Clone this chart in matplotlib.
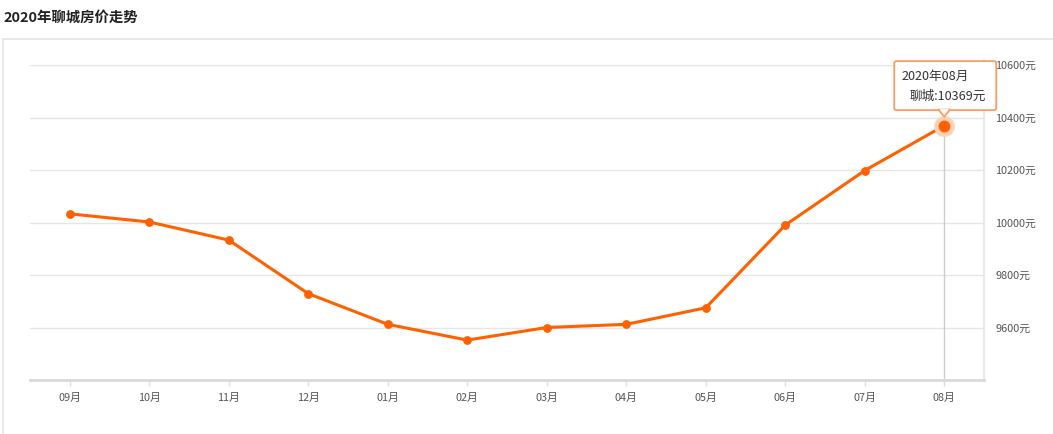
import matplotlib
matplotlib.use("Agg")
import matplotlib.pyplot as plt
from matplotlib.patches import Rectangle, Polygon, FancyBboxPatch
from matplotlib.transforms import IdentityTransform

plt.rcParams['font.family'] = ['Noto Sans CJK SC', 'DejaVu Sans']

title = "2020年聊城房价走势"
months = ["09月", "10月", "11月", "12月", "01月", "02月", "03月", "04月", "05月", "06月", "07月", "08月"]
prices = [10033, 10002, 9933, 9729, 9612, 9552, 9600, 9612, 9675, 9990, 10198, 10369]
yticks = [9600, 9800, 10000, 10200, 10400, 10600]
series_name = "聊城"
tooltip_date = "2020年08月"

LINE = "#ff6000"

fig = plt.figure(figsize=(10.53, 4.34), dpi=100)
W, H = 1053, 434

# outer panel border
fig.add_artist(Rectangle((3 / W, -0.1), 1.2, 1 - 38.5 / H + 0.1, transform=fig.transFigure,
                         facecolor="white", edgecolor="#e4e4e4", lw=1.2, zorder=0))
fig.text(3 / W, 1 - 18 / H, title, fontsize=10.4, fontweight="bold", color="#222222",
         ha="left", va="center")

ax = fig.add_axes([30 / W, 1 - 380 / H, (984 - 30) / W, (380 - 65) / H])
ax.set_facecolor("none")
x = list(range(len(months)))
ax.set_xlim(-0.5, len(months) - 0.5)
ax.set_ylim(9400, 10600)

for v in yticks:
    ax.axhline(v, color="#e6e6e6", lw=1, zorder=1)

ax.plot(x, prices, color=LINE, lw=2.2, marker="o", markersize=5.3, zorder=3,
        solid_joinstyle="round")

# crosshair on last point
last = len(months) - 1
ax.plot([last, last], [9400, prices[last]], color="#cccccc", lw=1, zorder=2)
ax.plot([last], [prices[last]], marker="o", markersize=15, color="#ffd2b5", zorder=3.5, mec="none")
ax.plot([last], [prices[last]], marker="o", markersize=8.5, color=LINE, zorder=4, mec="none")

# spines
for s in ["top", "left"]:
    ax.spines[s].set_visible(False)
ax.spines["bottom"].set_color("#d9d9d9")
ax.spines["bottom"].set_linewidth(2)
ax.spines["right"].set_color("#e8e8e8")
ax.spines["right"].set_linewidth(1.5)
ax.spines["right"].set_bounds(9400, 10620)

ax.set_xticks(x)
ax.set_xticklabels(months, fontsize=7.8, color="#555555")
ax.tick_params(axis="x", length=4, width=1, color="#dddddd", pad=5)

ax.yaxis.tick_right()
ax.set_yticks(yticks)
ax.set_yticklabels([f"{v}元" for v in yticks], fontsize=7.8, color="#555555")
ax.tick_params(axis="y", length=0, pad=8)

# tooltip (positioned from the data point, in pixel offsets)
px, py = last, prices[last]
disp = ax.transData.transform((px, py))
ident = IdentityTransform()
box = FancyBboxPatch((disp[0] - 50, disp[1] + 15.5), 102, 49,
                     boxstyle="round,pad=0,rounding_size=2",
                     transform=ident, facecolor="white",
                     edgecolor="#ff9a60", lw=1.3, zorder=6)
fig.add_artist(box)
tri = Polygon([(disp[0] - 6, disp[1] + 16.2), (disp[0] + 6, disp[1] + 16.2), (disp[0], disp[1] + 9)],
              closed=True, transform=ident, facecolor="white",
              edgecolor="#ff9a60", lw=1.3, zorder=6.5)
fig.add_artist(tri)
tri2 = Polygon([(disp[0] - 5, disp[1] + 17), (disp[0] + 5, disp[1] + 17), (disp[0], disp[1] + 11)],
               closed=True, transform=ident, facecolor="white",
               edgecolor="none", zorder=7)
fig.add_artist(tri2)
fig.text(disp[0] - 43, disp[1] + 49.5, tooltip_date, fontsize=9.1,
         color="#333333", ha="left", va="center", transform=ident, zorder=8)
fig.text(disp[0] - 35, disp[1] + 29.5, f"{series_name}:{py}元", fontsize=9.1,
         color="#333333", ha="left", va="center", transform=ident, zorder=8)

fig.savefig("out.png", dpi=100)
